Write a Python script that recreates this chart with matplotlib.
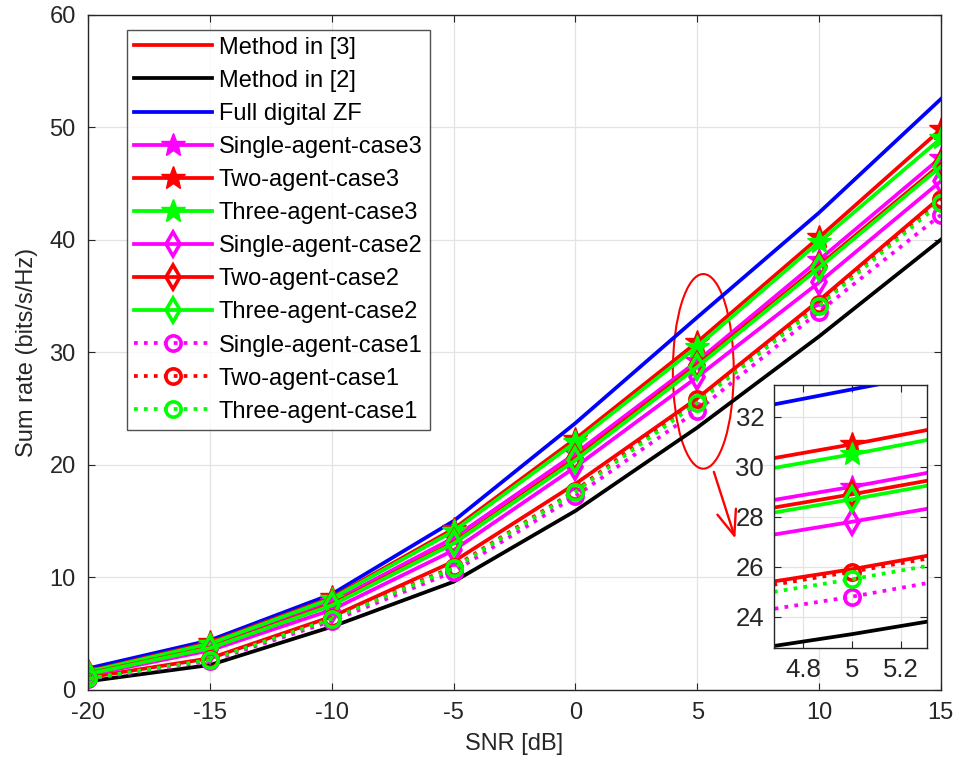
import numpy as np
import matplotlib.pyplot as plt
from matplotlib.patches import Ellipse

plt.rcParams['font.family'] = ['Liberation Sans', 'DejaVu Sans']
plt.rcParams['axes.unicode_minus'] = False

snr = [-20, -15, -10, -5, 0, 5, 10, 15]

method3 = [1.1, 2.8, 6.5, 11.4, 18.3, 25.9, 34.6, 43.8]
method2 = [0.75, 2.2, 5.6, 9.6, 15.9, 23.3, 31.4, 40.0]
full_zf = [1.9, 4.4, 8.5, 15.0, 23.7, 33.1, 42.4, 52.5]
single3 = [1.5, 3.9, 7.8, 13.5, 21.0, 29.2, 38.2, 47.3]
two3 = [1.65, 4.2, 8.2, 14.3, 22.3, 30.9, 40.2, 49.8]
three3 = [1.6, 4.1, 8.1, 14.1, 22.0, 30.5, 39.8, 49.0]
single2 = [1.3, 3.5, 7.1, 12.4, 19.8, 27.8, 36.2, 45.2]
two2 = [1.45, 3.75, 7.6, 13.1, 20.6, 28.9, 37.7, 46.7]
three2 = [1.4, 3.7, 7.5, 13.0, 20.4, 28.7, 37.5, 46.5]
single1 = [0.95, 2.55, 6.1, 10.5, 17.2, 24.8, 33.6, 42.2]
two1 = [1.05, 2.7, 6.4, 10.9, 17.7, 25.8, 34.3, 43.6]
three1 = [1.0, 2.65, 6.3, 10.8, 17.6, 25.5, 34.1, 43.3]

labels = ['Method in [3]', 'Method in [2]', 'Full digital ZF',
          'Single-agent-case3', 'Two-agent-case3', 'Three-agent-case3',
          'Single-agent-case2', 'Two-agent-case2', 'Three-agent-case2',
          'Single-agent-case1', 'Two-agent-case1', 'Three-agent-case1']

M = '#FF00FF'
R = '#FF0000'
G = '#00FF00'
series = [
    (method3, R, '-', None),
    (method2, 'k', '-', None),
    (full_zf, '#0000FF', '-', None),
    (single3, M, '-', '*'),
    (two3, R, '-', '*'),
    (three3, G, '-', '*'),
    (single2, M, '-', 'd'),
    (two2, R, '-', 'd'),
    (three2, G, '-', 'd'),
    (single1, M, ':', 'o'),
    (two1, R, ':', 'o'),
    (three1, G, ':', 'o'),
]


def draw(ax):
    for (y, c, ls, mk), lab in zip(series, labels):
        kw = dict(color=c, linestyle=ls, linewidth=2.7, label=lab)
        if mk == '*':
            kw.update(marker='*', markersize=18, markerfacecolor=c, markeredgecolor=c)
        elif mk == 'd':
            kw.update(marker='d', markersize=12, markerfacecolor='none',
                      markeredgecolor=c, markeredgewidth=2.6)
        elif mk == 'o':
            kw.update(marker='o', markersize=11, markerfacecolor='none',
                      markeredgecolor=c, markeredgewidth=2.6)
        ax.plot(snr, y, **kw)


def style(ax, size, pad):
    ax.grid(True, color='#e3e3e3', linewidth=0.9)
    ax.set_axisbelow(True)
    ax.tick_params(direction='in', top=True, right=True, labelsize=size,
                   colors='#262626', length=5, pad=pad)
    for s in ax.spines.values():
        s.set_color('#262626')
        s.set_linewidth(1.0)


fig = plt.figure(figsize=(9.59, 7.75), dpi=100)
ax = fig.add_axes([0.092, 0.110, 0.889, 0.871])
draw(ax)
ax.set_xlim(-20, 15)
ax.set_ylim(0, 60)
ax.set_xticks(np.arange(-20, 16, 5))
ax.set_yticks(np.arange(0, 61, 10))
style(ax, 17, 9)
ax.set_xlabel('SNR [dB]', fontsize=17, color='#262626', labelpad=6)
ax.set_ylabel('Sum rate (bits/s/Hz)', fontsize=17, color='#262626', labelpad=8)

leg = ax.legend(loc='upper left', bbox_to_anchor=(0.045, 0.978), fontsize=17,
                frameon=True, fancybox=False, edgecolor='#262626',
                handlelength=3.3, labelspacing=0.47, borderpad=0.3,
                handletextpad=0.3, borderaxespad=0)
leg.get_frame().set_linewidth(1.0)

# zoom ellipse and arrow
ax.add_patch(Ellipse((5.25, 28.3), 2.5, 17.3, fill=False, edgecolor=R, linewidth=1.5))
ax.annotate('', xy=(6.6, 13.2), xytext=(5.65, 19.6),
            arrowprops=dict(arrowstyle='->,head_length=1.8,head_width=0.7',
                            color=R, linewidth=1.7))

axin = fig.add_axes([0.807, 0.164, 0.160, 0.339])
draw(axin)
axin.set_xlim(4.68, 5.31)
axin.set_ylim(22.75, 33.27)
axin.set_xticks([4.8, 5, 5.2])
axin.set_xticklabels(['4.8', '5', '5.2'])
axin.set_yticks([24, 26, 28, 30, 32])
style(axin, 18.5, 7)
axin.set_facecolor('white')

fig.savefig('out.png', dpi=100)
